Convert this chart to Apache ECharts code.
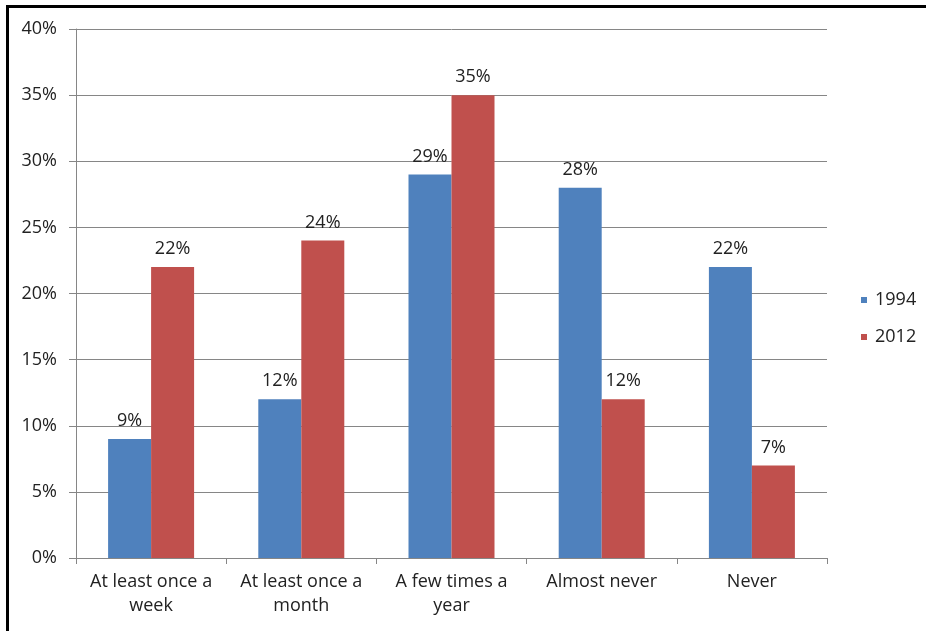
<!DOCTYPE html>
<html><head><meta charset="utf-8">
<script src="https://cdn.jsdelivr.net/npm/echarts@6/dist/echarts.min.js"></script>
<style>
html,body{margin:0;padding:0;background:#fff;}
#frame{position:absolute;left:6px;top:5px;width:926px;height:640px;border-left:3px solid #000;border-top:3px solid #000;box-sizing:border-box;}
#c{position:absolute;left:0;top:0;width:926px;height:631px;}
</style></head>
<body>
<div id="frame"></div>
<div id="c"></div>
<script>
const categories = ['At least once a\nweek','At least once a\nmonth','A few times a\nyear','Almost never','Never'];
const s1994 = [9,12,29,28,22];
const s2012 = [22,24,35,12,7];
const yTicks = [0,5,10,15,20,25,30,35,40];

const chart = echarts.init(document.getElementById('c'), null, {renderer:'canvas'});
const font = 'Open Sans, Noto Sans, sans-serif';
chart.setOption({
  animation:false,
  backgroundColor:'transparent',
  textStyle:{fontFamily:font},
  grid:{left:76,right:99,top:29,bottom:73,containLabel:false},
  legend:{
    orient:'vertical', left:861, top:291, padding:0, itemWidth:6, itemHeight:6, itemGap:19,
    icon:'rect',
    textStyle:{fontSize:18,color:'#222',fontFamily:font,padding:[0,0,0,3]},
    data:['1994','2012']
  },
  xAxis:{
    type:'category', data:categories,
    axisLine:{lineStyle:{color:'#868686',width:1}},
    axisTick:{show:true,length:6,lineStyle:{color:'#868686'}},
    axisLabel:{fontSize:18,color:'#222',lineHeight:24,margin:12,interval:0,fontFamily:font}
  },
  yAxis:{
    type:'value', min:0, max:40, interval:5,
    axisLine:{show:true,lineStyle:{color:'#868686'}},
    axisTick:{show:true,length:7,lineStyle:{color:'#868686'}},
    splitLine:{lineStyle:{color:'#868686',width:1}},
    axisLabel:{fontSize:18,color:'#222',margin:19,formatter:v=>yTicks.includes(v)?v+'%':'',fontFamily:font}
  },
  series:[
    {name:'1994',type:'bar',data:s1994,barWidth:43,barGap:'0%',
     itemStyle:{color:'#4F81BD'},
     label:{show:true,position:'top',formatter:p=>p.value+'%',fontSize:18,color:'#222',distance:9,fontFamily:font}},
    {name:'2012',type:'bar',data:s2012,barWidth:43,barGap:'0%',
     itemStyle:{color:'#C0504D'},
     label:{show:true,position:'top',formatter:p=>p.value+'%',fontSize:18,color:'#222',distance:9,fontFamily:font}}
  ]
});
</script>
</body></html>
